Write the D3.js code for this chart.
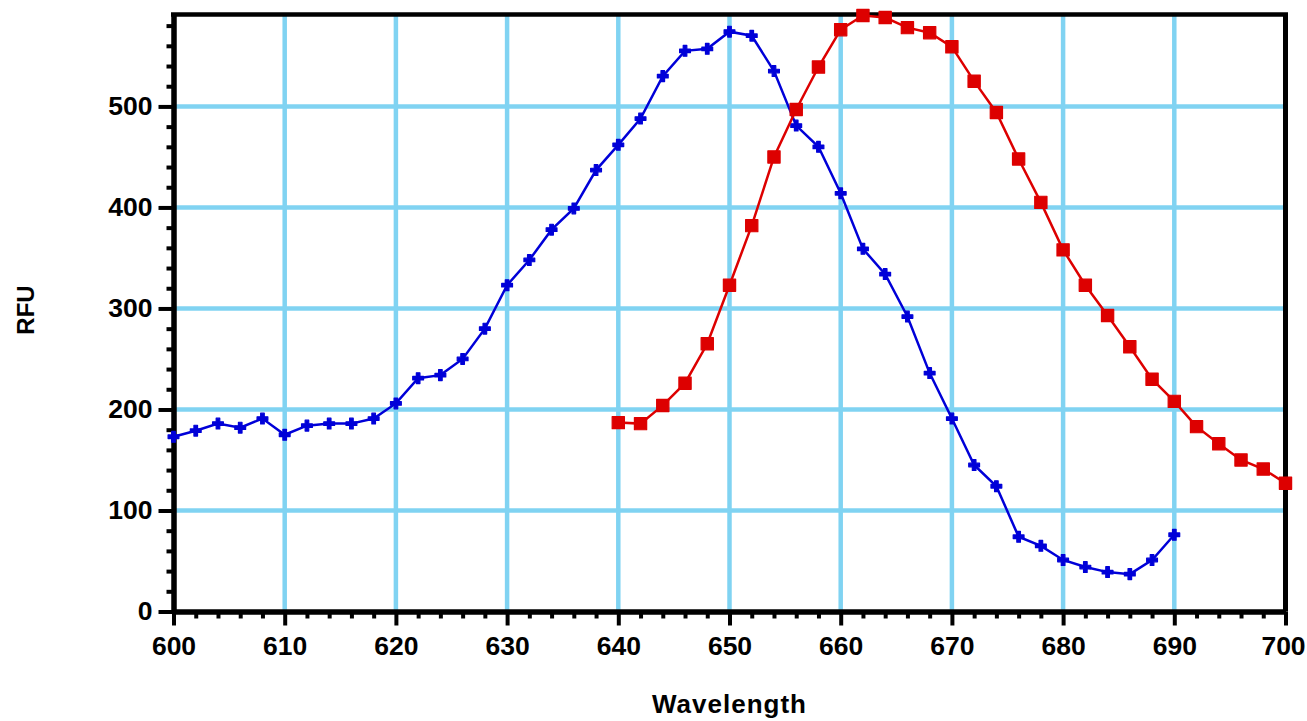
<!DOCTYPE html>
<html lang="en">
<head>
    <meta charset="UTF-8">
    <title>RFU vs Wavelength</title>
    <script src="https://cdnjs.cloudflare.com/ajax/libs/d3/7.8.2/d3.min.js"></script>
    <style>
        body{
            margin: 0;
            background: white;
        }
        .tick text{
            font-family: "Liberation Sans", Arial, sans-serif;
            font-weight: bold;
            font-size: 26.5px;
            fill: black;
        }
        .axis-title{
            font-family: "Liberation Sans", Arial, sans-serif;
            font-weight: bold;
            fill: black;
        }
    </style>
</head>
<body>
    <div class="container"></div>
    <script>
        // data
        let blueX = [600,602,604,606,608,610,612,614,616,618,620,622,624,626,628,630,632,634,636,638,
                     640,642,644,646,648,650,652,654,656,658,660,662,664,666,668,670,672,674,676,678,
                     680,682,684,686,688,690];
        let blueY = [173,179,186,182,191,175,184,186,186,191,206,231,234,250,280,323,348,378,399,437,
                     462,488,530,555,557,574,570,535,481,460,414,359,334,292,236,191,145,124,74,65,
                     51,44,39,37,51,76];

        let redX = [640,642,644,646,648,650,652,654,656,658,660,662,664,666,668,670,672,674,676,678,
                    680,682,684,686,688,690,692,694,696,698,700];
        let redY = [187,186,204,226,265,323,382,450,497,539,576,590,588,578,573,559,525,494,448,405,
                    358,323,293,262,230,208,183,166,150,141,127];

        let xMajor = [600,610,620,630,640,650,660,670,680,690,700];
        let yMajor = [0,100,200,300,400,500];

        let width = 1307;
        let height = 721;
        let margin = {left: 173.5, top: 14.5, right: 21.5, bottom: 109.5};
        let gridColor = '#80d3f2';

        let svg = d3.select('.container').append('svg')
            .attr('width', width)
            .attr('height', height)

        let xScale = d3.scaleLinear()
            .domain([600, 700])
            .range([margin.left, width - margin.right])

        let yScale = d3.scaleLinear()
            .domain([0, 591])
            .range([height - margin.bottom, margin.top])

        const xMinor = d3.range(600, 701, 2).filter(d => d % 10 != 0)
        const yMinor = d3.range(0, 591, 20).filter(d => d % 100 != 0)

        // grid
        const grid = svg.append('g').attr('class', 'grid')
        grid.selectAll('.vgrid')
            .data(xMajor.filter(d => d > 600 && d < 700))
            .enter()
            .append('line')
            .attr('x1', d => xScale(d)).attr('x2', d => xScale(d))
            .attr('y1', yScale(591)).attr('y2', yScale(0))
            .style('stroke', gridColor)
            .style('stroke-width', 4.5)

        grid.selectAll('.hgrid')
            .data(yMajor.filter(d => d > 0))
            .enter()
            .append('line')
            .attr('x1', xScale(600)).attr('x2', xScale(700))
            .attr('y1', d => yScale(d)).attr('y2', d => yScale(d))
            .style('stroke', gridColor)
            .style('stroke-width', 4.5)

        // frame on top and right
        svg.append('line')
            .attr('x1', xScale(600) - 2.5).attr('x2', xScale(700) + 2.5)
            .attr('y1', yScale(591)).attr('y2', yScale(591))
            .style('stroke', 'black').style('stroke-width', 4.5)
        svg.append('line')
            .attr('x1', xScale(700)).attr('x2', xScale(700))
            .attr('y1', yScale(591)).attr('y2', yScale(0))
            .style('stroke', 'black').style('stroke-width', 5)

        // axes
        const styleAxis = (g) => {
            g.select('.domain').style('stroke', 'black').style('stroke-width', 5)
            g.selectAll('.tick line').style('stroke', 'black').style('stroke-width', 4)
        }

        svg.append('g')
            .attr('transform', `translate(0,${yScale(0)})`)
            .call(d3.axisBottom(xScale).tickValues(xMinor).tickSize(7).tickSizeOuter(0).tickFormat(''))
            .call(styleAxis)

        svg.append('g')
            .attr('id', 'x-axis')
            .attr('transform', `translate(0,${yScale(0)})`)
            .call(d3.axisBottom(xScale).tickValues(xMajor).tickSize(14).tickPadding(11).tickSizeOuter(0).tickFormat(d3.format('d')))
            .call(styleAxis)
            .selectAll('.tick text')
            .attr('dx', d => d == 700 ? -2.5 : 0)

        svg.append('g')
            .attr('transform', `translate(${xScale(600)},0)`)
            .call(d3.axisLeft(yScale).tickValues(yMinor).tickSize(7).tickSizeOuter(0).tickFormat(''))
            .call(styleAxis)

        svg.append('g')
            .attr('id', 'y-axis')
            .attr('transform', `translate(${xScale(600)},0)`)
            .call(d3.axisLeft(yScale).tickValues(yMajor).tickSize(15).tickPadding(6).tickSizeOuter(0).tickFormat(d3.format('d')))
            .call(styleAxis)

        // axis titles
        svg.append('text')
            .attr('class', 'axis-title')
            .attr('x', (xScale(600) + xScale(700)) / 2)
            .attr('y', 713)
            .style('text-anchor', 'middle')
            .style('font-size', '26px')
            .style('letter-spacing', '1px')
            .text('Wavelength')

        svg.append('text')
            .attr('class', 'axis-title')
            .attr('transform', 'translate(34,310) rotate(-90)')
            .style('text-anchor', 'middle')
            .style('font-size', '24px')
            .text('RFU')

        // series
        const drawSeries = (xs, ys, color, symbol, size) => {
            const pts = xs.map((x, i) => [x, ys[i]])
            const line = d3.line().x(d => xScale(d[0])).y(d => yScale(d[1]))
            svg.append('path')
                .datum(pts)
                .attr('d', line)
                .style('fill', 'none')
                .style('stroke', color)
                .style('stroke-width', 2.5)

            svg.append('g').selectAll('path')
                .data(pts)
                .enter()
                .append('path')
                .attr('transform', d => `translate(${xScale(d[0])},${yScale(d[1])})`)
                .attr('d', d3.symbol().type(symbol).size(size))
                .style('fill', color)
                .style('stroke', color)
                .style('stroke-width', 1.2)
                .style('stroke-linejoin', 'round')
        }

        drawSeries(blueX, blueY, '#0000d8', d3.symbolCross, 65)
        drawSeries(redX, redY, '#dd0000', d3.symbolSquare, 150)
    </script>
</body>
</html>
